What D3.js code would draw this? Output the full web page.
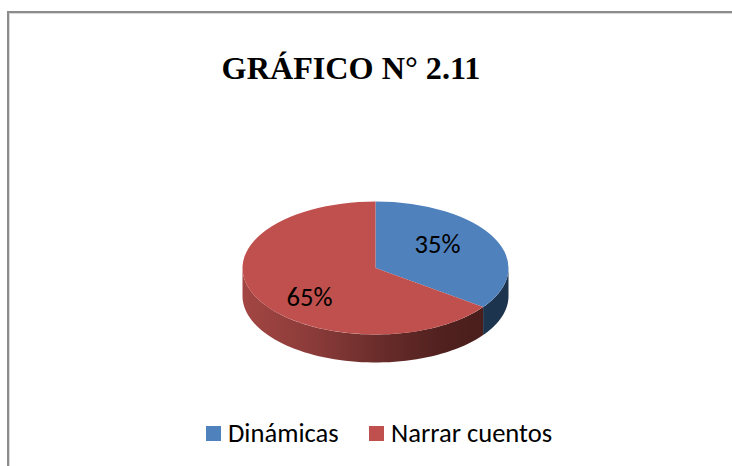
<!DOCTYPE html>
<html><head><meta charset="utf-8">
<script src="https://cdn.jsdelivr.net/npm/d3@7/dist/d3.min.js"></script>
<style>html,body{margin:0;padding:0;background:#fff}svg{display:block}</style>
</head><body><svg id="c" width="732" height="466"></svg>
<script>
const categories = ["Dinámicas", "Narrar cuentos"];
const values = [35, 65];
const labels = ["35%", "65%"];
const colors = ["#4f81bd", "#c0504d"];
const titleText = "GRÁFICO N° 2.11";

const svg = d3.select("#c");
const defs = svg.append("defs");
const cx = 375.5, cy = 268, rx = 133, ry = 66.5, depth = 28;
const sy = ry / rx;

svg.append("path").attr("d", "M9.5 466V13.5H732").attr("fill", "none").attr("stroke", "#d8d8d8").attr("stroke-width", 1);
svg.append("path").attr("d", "M8 466V12H732").attr("fill", "none").attr("stroke", "#8c8c8c").attr("stroke-width", 2);

const arcs = d3.pie().sort(null).value(d => d)(values);
const xAt = a => cx + rx * Math.sin(a);
const yAt = a => cy - ry * Math.cos(a);

function sidePath(a0, a1) {
  const n = 60;
  const pts = d3.range(n + 1).map(i => a0 + (a1 - a0) * i / n);
  const top = pts.map(a => [xAt(a), yAt(a)]);
  const bot = pts.slice().reverse().map(a => [xAt(a), yAt(a) + depth]);
  return d3.line()(top.concat(bot)) + "Z";
}
const gr = defs.append("linearGradient").attr("id", "gr").attr("gradientUnits", "userSpaceOnUse")
  .attr("x1", cx - rx).attr("x2", xAt(arcs[0].endAngle)).attr("y1", 0).attr("y2", 0);
[[0, "#a34643"], [0.3, "#8a3b39"], [0.6, "#662b29"], [0.85, "#4f201e"], [1, "#4a1e1c"]]
  .forEach(s => gr.append("stop").attr("offset", s[0]).attr("stop-color", s[1]));
svg.append("path").attr("d", sidePath(Math.PI / 2, arcs[0].endAngle)).attr("fill", "#1d344f");
svg.append("path").attr("d", sidePath(arcs[1].startAngle, 3 * Math.PI / 2)).attr("fill", "url(#gr)");

const arcGen = d3.arc().innerRadius(0).outerRadius(rx);
const topG = svg.append("g").attr("transform", `translate(${cx},${cy}) scale(1,${sy})`);
topG.selectAll("path").data(arcs).join("path").attr("d", arcGen).attr("fill", (d, i) => colors[i]);

// labels sit at the slice's mid-angle, nudged as in the original
const mid = d => (d.startAngle + d.endAngle) / 2;
const nudge = [[0, -6], [-4, 16]];
svg.selectAll("text.v").data(arcs).join("text").attr("class", "v")
  .attr("x", (d, i) => cx + 0.523 * rx * Math.sin(mid(d)) + nudge[i][0])
  .attr("y", (d, i) => cy - 0.523 * ry * Math.cos(mid(d)) + nudge[i][1])
  .attr("text-anchor", "middle").attr("dominant-baseline", "middle")
  .attr("font-family", "Carlito, 'Open Sans', 'Noto Sans', sans-serif").attr("font-size", 26.6).attr("fill", "#000").text((d, i) => labels[i]);

svg.append("text").attr("x", 351).attr("y", 79).attr("text-anchor", "middle")
  .attr("font-family", "'Liberation Serif', serif").attr("font-weight", "bold").attr("font-size", 32.2).attr("fill", "#000").text(titleText);

const legendX = [206, 369];
const lg = svg.selectAll("g.l").data(categories).join("g").attr("class", "l").attr("transform", (d, i) => `translate(${legendX[i]},426)`);
lg.append("rect").attr("width", 15).attr("height", 15).attr("fill", (d, i) => colors[i]);
lg.append("text").attr("x", 22).attr("y", 16).attr("font-family", "Carlito, 'Open Sans', 'Noto Sans', sans-serif").attr("font-size", 26.6).attr("fill", "#000").text(d => d);
</script></body></html>
